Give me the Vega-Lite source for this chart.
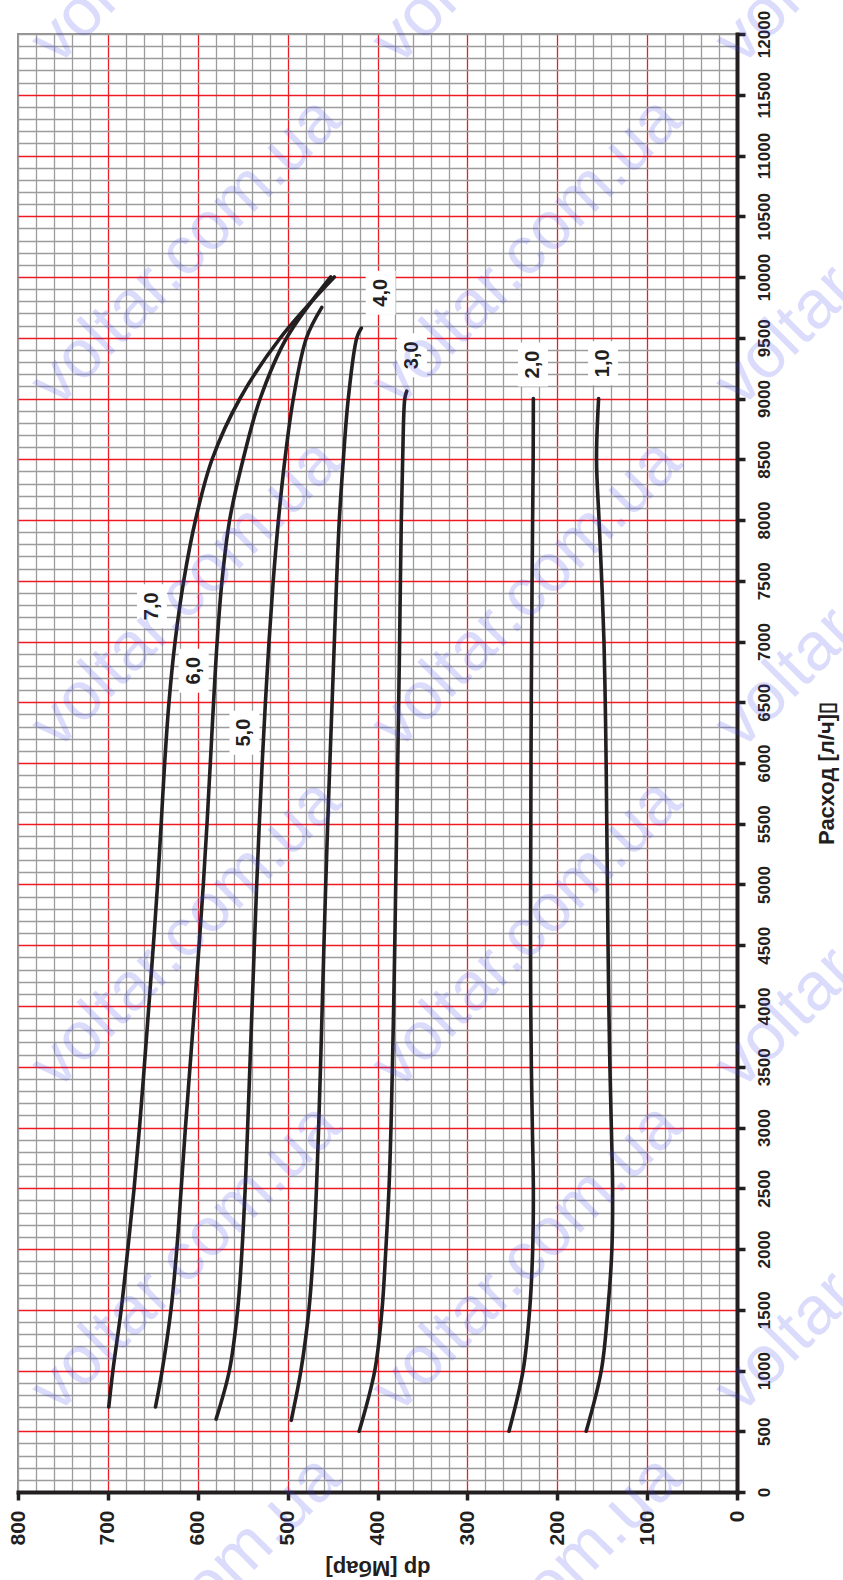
{
  "$schema": "https://vega.github.io/schema/vega-lite/v6.json",
  "autosize": {"type": "none"},
  "width": 719,
  "height": 1458,
  "padding": {"left": 18, "top": 34, "right": 106, "bottom": 88},
  "background": "#ffffff",
  "view": {"stroke": "#8f8f8f", "strokeWidth": 2},
  "datasets": {
    "curves": [
      {"curve": "1,0", "flow": 500, "dp": 167.8}, {"curve": "1,0", "flow": 1000, "dp": 151}, {"curve": "1,0", "flow": 1500, "dp": 143.7}, {"curve": "1,0", "flow": 2000, "dp": 139.2}, {"curve": "1,0", "flow": 2500, "dp": 138.4}, {"curve": "1,0", "flow": 3000, "dp": 139.8}, {"curve": "1,0", "flow": 3500, "dp": 141.4}, {"curve": "1,0", "flow": 4000, "dp": 142.6}, {"curve": "1,0", "flow": 4500, "dp": 143.5}, {"curve": "1,0", "flow": 5000, "dp": 144.2}, {"curve": "1,0", "flow": 5500, "dp": 144.9}, {"curve": "1,0", "flow": 6000, "dp": 145.6}, {"curve": "1,0", "flow": 6500, "dp": 146.6}, {"curve": "1,0", "flow": 7000, "dp": 148}, {"curve": "1,0", "flow": 7500, "dp": 150.5}, {"curve": "1,0", "flow": 8000, "dp": 153.5}, {"curve": "1,0", "flow": 8500, "dp": 156.3}, {"curve": "1,0", "flow": 9000, "dp": 154},
      {"curve": "2,0", "flow": 500, "dp": 253.7}, {"curve": "2,0", "flow": 1000, "dp": 238}, {"curve": "2,0", "flow": 1500, "dp": 230.7}, {"curve": "2,0", "flow": 2000, "dp": 227.3}, {"curve": "2,0", "flow": 2500, "dp": 226.6}, {"curve": "2,0", "flow": 3000, "dp": 227.7}, {"curve": "2,0", "flow": 3500, "dp": 228.8}, {"curve": "2,0", "flow": 4000, "dp": 229.5}, {"curve": "2,0", "flow": 4500, "dp": 229.7}, {"curve": "2,0", "flow": 5000, "dp": 229.6}, {"curve": "2,0", "flow": 5500, "dp": 229.4}, {"curve": "2,0", "flow": 6000, "dp": 229.2}, {"curve": "2,0", "flow": 6500, "dp": 228.9}, {"curve": "2,0", "flow": 7000, "dp": 228.5}, {"curve": "2,0", "flow": 7500, "dp": 228}, {"curve": "2,0", "flow": 8000, "dp": 227.4}, {"curve": "2,0", "flow": 8500, "dp": 226.8}, {"curve": "2,0", "flow": 9000, "dp": 226.6},
      {"curve": "3,0", "flow": 500, "dp": 420.4}, {"curve": "3,0", "flow": 1000, "dp": 403}, {"curve": "3,0", "flow": 1500, "dp": 395}, {"curve": "3,0", "flow": 2000, "dp": 390.7}, {"curve": "3,0", "flow": 2500, "dp": 387.2}, {"curve": "3,0", "flow": 3000, "dp": 385}, {"curve": "3,0", "flow": 3500, "dp": 383.4}, {"curve": "3,0", "flow": 4000, "dp": 382}, {"curve": "3,0", "flow": 4500, "dp": 380.8}, {"curve": "3,0", "flow": 5000, "dp": 379.7}, {"curve": "3,0", "flow": 5500, "dp": 378.6}, {"curve": "3,0", "flow": 6000, "dp": 377.5}, {"curve": "3,0", "flow": 6500, "dp": 376.4}, {"curve": "3,0", "flow": 7000, "dp": 375.4}, {"curve": "3,0", "flow": 7500, "dp": 374.5}, {"curve": "3,0", "flow": 8000, "dp": 373.5}, {"curve": "3,0", "flow": 8500, "dp": 372}, {"curve": "3,0", "flow": 9000, "dp": 369.6}, {"curve": "3,0", "flow": 9060, "dp": 367.5},
      {"curve": "4,0", "flow": 590, "dp": 496}, {"curve": "4,0", "flow": 1000, "dp": 485.2}, {"curve": "4,0", "flow": 1500, "dp": 476.3}, {"curve": "4,0", "flow": 2000, "dp": 471.2}, {"curve": "4,0", "flow": 2500, "dp": 467.9}, {"curve": "4,0", "flow": 3000, "dp": 465.5}, {"curve": "4,0", "flow": 3500, "dp": 463.4}, {"curve": "4,0", "flow": 4000, "dp": 461.5}, {"curve": "4,0", "flow": 4500, "dp": 459.6}, {"curve": "4,0", "flow": 5000, "dp": 457.6}, {"curve": "4,0", "flow": 5500, "dp": 455.4}, {"curve": "4,0", "flow": 6000, "dp": 453}, {"curve": "4,0", "flow": 6500, "dp": 450.5}, {"curve": "4,0", "flow": 7000, "dp": 448}, {"curve": "4,0", "flow": 7500, "dp": 445.5}, {"curve": "4,0", "flow": 8000, "dp": 442.5}, {"curve": "4,0", "flow": 8500, "dp": 438}, {"curve": "4,0", "flow": 9000, "dp": 432.5}, {"curve": "4,0", "flow": 9500, "dp": 423}, {"curve": "4,0", "flow": 9580, "dp": 418},
      {"curve": "5,0", "flow": 600, "dp": 579.6}, {"curve": "5,0", "flow": 1000, "dp": 564.8}, {"curve": "5,0", "flow": 1500, "dp": 555.6}, {"curve": "5,0", "flow": 2000, "dp": 550.7}, {"curve": "5,0", "flow": 2500, "dp": 547.2}, {"curve": "5,0", "flow": 3000, "dp": 544.5}, {"curve": "5,0", "flow": 3500, "dp": 542}, {"curve": "5,0", "flow": 4000, "dp": 539.5}, {"curve": "5,0", "flow": 4500, "dp": 537}, {"curve": "5,0", "flow": 5000, "dp": 534.4}, {"curve": "5,0", "flow": 5500, "dp": 531.5}, {"curve": "5,0", "flow": 6000, "dp": 528.3}, {"curve": "5,0", "flow": 6500, "dp": 524.7}, {"curve": "5,0", "flow": 7000, "dp": 520.7}, {"curve": "5,0", "flow": 7500, "dp": 516}, {"curve": "5,0", "flow": 8000, "dp": 510.2}, {"curve": "5,0", "flow": 8500, "dp": 503}, {"curve": "5,0", "flow": 9000, "dp": 493.6}, {"curve": "5,0", "flow": 9500, "dp": 479}, {"curve": "5,0", "flow": 9750, "dp": 462},
      {"curve": "6,0", "flow": 700, "dp": 647}, {"curve": "6,0", "flow": 1000, "dp": 639.6}, {"curve": "6,0", "flow": 1500, "dp": 629.8}, {"curve": "6,0", "flow": 2000, "dp": 623.3}, {"curve": "6,0", "flow": 2500, "dp": 618.4}, {"curve": "6,0", "flow": 3000, "dp": 613.7}, {"curve": "6,0", "flow": 3500, "dp": 608.6}, {"curve": "6,0", "flow": 4000, "dp": 603.5}, {"curve": "6,0", "flow": 4500, "dp": 598.5}, {"curve": "6,0", "flow": 5000, "dp": 593.8}, {"curve": "6,0", "flow": 5500, "dp": 589.7}, {"curve": "6,0", "flow": 6000, "dp": 586}, {"curve": "6,0", "flow": 6500, "dp": 582.4}, {"curve": "6,0", "flow": 7000, "dp": 578.4}, {"curve": "6,0", "flow": 7500, "dp": 573}, {"curve": "6,0", "flow": 8000, "dp": 564.5}, {"curve": "6,0", "flow": 8500, "dp": 549.5}, {"curve": "6,0", "flow": 9000, "dp": 530.5}, {"curve": "6,0", "flow": 9500, "dp": 501}, {"curve": "6,0", "flow": 10000, "dp": 452},
      {"curve": "7,0", "flow": 700, "dp": 699}, {"curve": "7,0", "flow": 1000, "dp": 694.4}, {"curve": "7,0", "flow": 1500, "dp": 685.2}, {"curve": "7,0", "flow": 2000, "dp": 677.8}, {"curve": "7,0", "flow": 2500, "dp": 670.8}, {"curve": "7,0", "flow": 3000, "dp": 664.8}, {"curve": "7,0", "flow": 3500, "dp": 659.5}, {"curve": "7,0", "flow": 4000, "dp": 654.4}, {"curve": "7,0", "flow": 4500, "dp": 649.4}, {"curve": "7,0", "flow": 5000, "dp": 644.7}, {"curve": "7,0", "flow": 5500, "dp": 640.7}, {"curve": "7,0", "flow": 6000, "dp": 636.8}, {"curve": "7,0", "flow": 6500, "dp": 632}, {"curve": "7,0", "flow": 7000, "dp": 625.2}, {"curve": "7,0", "flow": 7500, "dp": 615.6}, {"curve": "7,0", "flow": 8000, "dp": 602.5}, {"curve": "7,0", "flow": 8500, "dp": 584}, {"curve": "7,0", "flow": 9000, "dp": 553}, {"curve": "7,0", "flow": 9500, "dp": 508}, {"curve": "7,0", "flow": 10000, "dp": 448}
    ],
    "tags": [
      {"tag": "1,0", "dp": 149, "flow": 9290},
      {"tag": "2,0", "dp": 227, "flow": 9280},
      {"tag": "3,0", "dp": 361.5, "flow": 9355},
      {"tag": "4,0", "dp": 396.5, "flow": 9870},
      {"tag": "5,0", "dp": 548, "flow": 6250},
      {"tag": "6,0", "dp": 604.5, "flow": 6760},
      {"tag": "7,0", "dp": 651, "flow": 7290}
    ],
    "stamp": [
      {"text": "voltar.com.ua", "dp": 613, "flow": 13021}, {"text": "voltar.com.ua", "dp": 233.7, "flow": 13021}, {"text": "voltar.com.ua", "dp": -148, "flow": 13021},
      {"text": "voltar.com.ua", "dp": 613, "flow": 10206}, {"text": "voltar.com.ua", "dp": 233.7, "flow": 10206}, {"text": "voltar.com.ua", "dp": -148, "flow": 10206},
      {"text": "voltar.com.ua", "dp": 613, "flow": 7391}, {"text": "voltar.com.ua", "dp": 233.7, "flow": 7391}, {"text": "voltar.com.ua", "dp": -148, "flow": 7391},
      {"text": "voltar.com.ua", "dp": 613, "flow": 4593}, {"text": "voltar.com.ua", "dp": 233.7, "flow": 4593}, {"text": "voltar.com.ua", "dp": -148, "flow": 4593},
      {"text": "voltar.com.ua", "dp": 613, "flow": 1926}, {"text": "voltar.com.ua", "dp": 233.7, "flow": 1926}, {"text": "voltar.com.ua", "dp": -148, "flow": 1926},
      {"text": "voltar.com.ua", "dp": 613, "flow": -971}, {"text": "voltar.com.ua", "dp": 233.7, "flow": -971}, {"text": "voltar.com.ua", "dp": -148, "flow": -971}
    ]
  },
  "resolve": {"axis": {"x": "independent", "y": "independent"}},
  "layer": [
    {
      "data": {"name": "curves"},
      "mark": {"type": "line", "interpolate": "catmull-rom", "color": "#231f20", "strokeWidth": 3.6, "strokeCap": "round"},
      "encoding": {
        "x": {
          "field": "dp", "type": "quantitative",
          "scale": {"domain": [0, 800], "reverse": true, "nice": false, "zero": false},
          "axis": {
            "orient": "bottom",
            "values": [0, 20, 40, 60, 80, 100, 120, 140, 160, 180, 200, 220, 240, 260, 280, 300, 320, 340, 360, 380, 400, 420, 440, 460, 480, 500, 520, 540, 560, 580, 600, 620, 640, 660, 680, 700, 720, 740, 760, 780, 800],
            "format": "d",
            "labelExpr": "datum.value % 100 === 0 ? datum.label : ''",
            "labelAngle": 270,
            "labelAlign": "right",
            "labelBaseline": "middle",
            "labelPadding": 10,
            "labelFont": "Liberation Sans, Arial, sans-serif",
            "labelFontSize": 21,
            "labelFontWeight": "bold",
            "labelColor": "#231f20",
            "labelOverlap": false,
            "labelFlush": false,
            "tickSize": 8,
            "tickWidth": 3.5,
            "tickColor": {"condition": {"test": "datum.value % 100 === 0", "value": "#231f20"}, "value": "transparent"},
            "domainColor": "#231f20",
            "domainWidth": 4,
            "domainCap": "square",
            "grid": true,
            "gridColor": {"condition": {"test": "datum.value % 100 === 0 && datum.value > 0 && datum.value < 800", "value": "#ed1c24"}, "value": "#9c9c9c"},
            "gridWidth": 1.3,
            "title": "dp [Мбар]",
            "titleFont": "Liberation Sans, Arial, sans-serif",
            "titleFontSize": 22,
            "titleFontWeight": "bold",
            "titleColor": "#231f20",
            "titleAngle": 180,
            "titleAlign": "center",
            "titleBaseline": "middle",
            "titleX": 359.5,
            "titleY": 75
          }
        },
        "y": {
          "field": "flow", "type": "quantitative",
          "scale": {"domain": [0, 12000], "nice": false, "zero": false},
          "axis": {
            "orient": "right",
            "values": [0, 100, 200, 300, 400, 500, 600, 700, 800, 900, 1000, 1100, 1200, 1300, 1400, 1500, 1600, 1700, 1800, 1900, 2000, 2100, 2200, 2300, 2400, 2500, 2600, 2700, 2800, 2900, 3000, 3100, 3200, 3300, 3400, 3500, 3600, 3700, 3800, 3900, 4000, 4100, 4200, 4300, 4400, 4500, 4600, 4700, 4800, 4900, 5000, 5100, 5200, 5300, 5400, 5500, 5600, 5700, 5800, 5900, 6000, 6100, 6200, 6300, 6400, 6500, 6600, 6700, 6800, 6900, 7000, 7100, 7200, 7300, 7400, 7500, 7600, 7700, 7800, 7900, 8000, 8100, 8200, 8300, 8400, 8500, 8600, 8700, 8800, 8900, 9000, 9100, 9200, 9300, 9400, 9500, 9600, 9700, 9800, 9900, 10000, 10100, 10200, 10300, 10400, 10500, 10600, 10700, 10800, 10900, 11000, 11100, 11200, 11300, 11400, 11500, 11600, 11700, 11800, 11900, 12000],
            "format": "d",
            "labelExpr": "datum.value % 500 === 0 ? datum.label : ''",
            "labelAngle": 270,
            "labelAlign": "center",
            "labelBaseline": "top",
            "labelPadding": 11,
            "labelFont": "Liberation Sans, Arial, sans-serif",
            "labelFontSize": 17,
            "labelFontWeight": "bold",
            "labelColor": "#231f20",
            "labelOverlap": false,
            "labelFlush": false,
            "tickSize": 8,
            "tickWidth": 3.5,
            "tickColor": {"condition": {"test": "datum.value % 500 === 0", "value": "#231f20"}, "value": "transparent"},
            "domainColor": "#231f20",
            "domainWidth": 4,
            "domainCap": "square",
            "grid": true,
            "gridColor": {"condition": {"test": "datum.value % 500 === 0 && datum.value > 0 && datum.value < 12000", "value": "#ed1c24"}, "value": "#9c9c9c"},
            "gridWidth": 1.3,
            "title": "Расход [л/ч]▯",
            "titleFont": "Liberation Sans, Arial, sans-serif",
            "titleFontSize": 22,
            "titleFontWeight": "bold",
            "titleColor": "#231f20",
            "titleAngle": 270,
            "titleAlign": "center",
            "titleBaseline": "middle",
            "titleX": 89,
            "titleY": 739
          }
        },
        "detail": {"field": "curve", "type": "nominal"},
        "order": {"field": "flow", "type": "quantitative"}
      }
    },
    {
      "data": {"name": "tags"},
      "mark": {"type": "point", "shape": "M-0.68,-1H0.68V1H-0.68Z", "size": 1936, "filled": true, "fill": "#ffffff", "opacity": 1, "strokeWidth": 0},
      "encoding": {
        "x": {"field": "dp", "type": "quantitative", "scale": {"domain": [0, 800], "reverse": true, "nice": false, "zero": false}, "axis": null},
        "y": {"field": "flow", "type": "quantitative", "scale": {"domain": [0, 12000], "nice": false, "zero": false}, "axis": null}
      }
    },
    {
      "data": {"name": "tags"},
      "mark": {"type": "text", "angle": 270, "align": "center", "baseline": "middle", "font": "Liberation Sans, Arial, sans-serif", "fontSize": 20, "fontWeight": "bold", "color": "#231f20"},
      "encoding": {
        "x": {"field": "dp", "type": "quantitative", "scale": {"domain": [0, 800], "reverse": true, "nice": false, "zero": false}, "axis": null},
        "y": {"field": "flow", "type": "quantitative", "scale": {"domain": [0, 12000], "nice": false, "zero": false}, "axis": null},
        "text": {"field": "tag", "type": "nominal"}
      }
    },
    {
      "data": {"name": "stamp"},
      "mark": {"type": "text", "angle": 315, "align": "center", "baseline": "middle", "font": "Liberation Sans, Arial, sans-serif", "fontSize": 68, "color": "#3c3cf0", "opacity": 0.18},
      "encoding": {
        "x": {"field": "dp", "type": "quantitative", "scale": {"domain": [0, 800], "reverse": true, "nice": false, "zero": false}, "axis": null},
        "y": {"field": "flow", "type": "quantitative", "scale": {"domain": [0, 12000], "nice": false, "zero": false}, "axis": null},
        "text": {"field": "text", "type": "nominal"}
      }
    }
  ]
}
